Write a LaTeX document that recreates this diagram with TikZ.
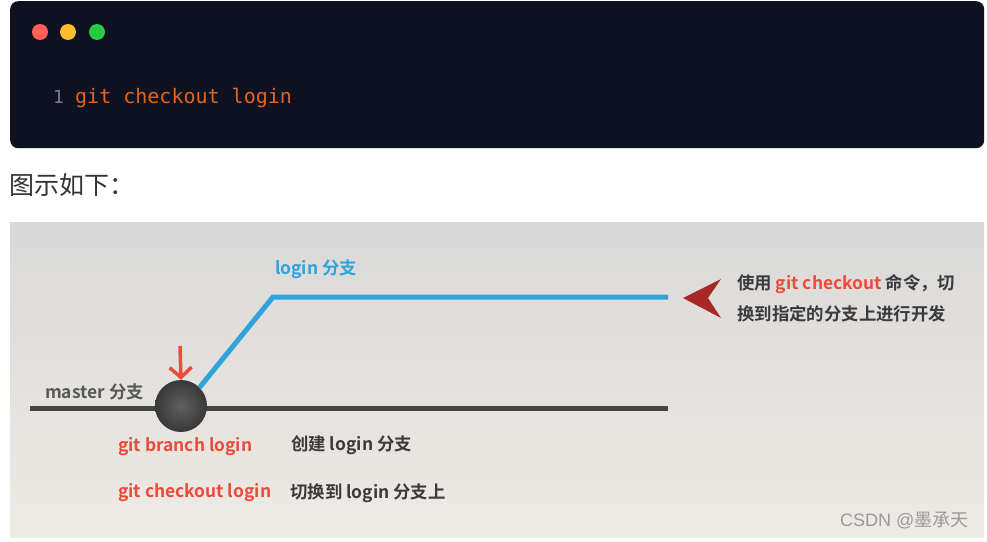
\documentclass[tikz,border=0pt]{standalone}
\usepackage{fontspec}
\setmainfont{Noto Sans CJK SC}
\newfontfamily\cjk{Noto Sans CJK SC}
\newfontfamily\cjkb[BoldFont={Noto Sans CJK SC Bold}]{Noto Sans CJK SC}
\newfontfamily\monof{DejaVu Sans Mono}
\usetikzlibrary{arrows.meta}
\definecolor{codebg}{HTML}{0D1120}
\definecolor{codeorange}{HTML}{E8641C}
\definecolor{linenum}{HTML}{7A8094}
\definecolor{dotred}{HTML}{FF5F56}
\definecolor{dotyellow}{HTML}{FFBD2E}
\definecolor{dotgreen}{HTML}{27C93F}
\definecolor{captxt}{HTML}{333333}
\definecolor{paneltop}{HTML}{D9D9D9}
\definecolor{panelbot}{HTML}{EEEAE4}
\definecolor{masterc}{HTML}{444444}
\definecolor{branchblue}{HTML}{2EA3DC}
\definecolor{cmdred}{HTML}{EE4A3A}
\definecolor{darktxt}{HTML}{3A3A3A}
\definecolor{dartred}{HTML}{A82828}
\definecolor{wm}{HTML}{9A9A9A}
\tikzset{
  lbl/.style={inner sep=0pt, anchor=west, font=\cjkb\bfseries\fontsize{17.4}{19}\selectfont},
  dot/.style={circle, minimum size=16pt, inner sep=0pt},
}
\begin{document}
\begin{tikzpicture}[x=1pt,y=-1pt]
\useasboundingbox (0,0) rectangle (987,541);
\fill[white] (0,0) rectangle (987,541);
% code box
\node[fill=codebg, rounded corners=8pt, minimum width=974pt, minimum height=147pt, anchor=north west, inner sep=0pt] (code) at (10,1) {};
\node[dot, fill=dotred] (d1) at (40,32) {};
\node[dot, fill=dotyellow] (d2) at (68,32) {};
\node[dot, fill=dotgreen] (d3) at (97,32) {};
\node[anchor=base west, inner sep=0pt, text=linenum, font=\monof\fontsize{18}{20}\selectfont] (ln) at (53,103) {1};
\node[anchor=base west, inner sep=0pt, text=codeorange, font=\monof\fontsize{20}{22}\selectfont] (cmd) at (75,103) {git checkout login};
% caption
\node[anchor=west, inner sep=0pt, text=captxt, font=\cjk\fontsize{25}{27}\selectfont] (cap) at (9,185) {图示如下：};
% panel
\shade[top color=paneltop, bottom color=panelbot] (10,222) rectangle (984,537);
% master line
\coordinate (ms) at (30,408);
\coordinate (me) at (668,408);
\draw[masterc, line width=5pt] (ms) -- (me);
% blue branch
\coordinate (bk) at (273,297);
\coordinate (be) at (668,297);
\node[circle, minimum size=52pt, inner sep=0pt] (c) at (181,406) {};
\draw[branchblue, line width=5pt] (c.45) -- (bk) -- (be);
\shade[inner color=masterc!85, outer color=black!78] (c.center) circle (26pt);
% red arrow
\coordinate (ra) at (180,346);
\draw[cmdred, line width=3.5pt, -{Straight Barb[length=10pt,width=22pt,line width=3.5pt]}] (ra) -- (c.north);
% labels
\node[lbl, text=branchblue] (login) at (275,269) {login 分支};
\node[lbl, text=masterc!90] (master) at (45,392) {master 分支};
\node[lbl, text=cmdred] (gb) at (118,447) {git branch login};
\node[lbl, text=darktxt] (gbt) at (291,445) {创建 login 分支};
\node[lbl, text=cmdred] (gc) at (118,493) {git checkout login};
\node[lbl, text=darktxt] (gct) at (290,493) {切换到 login 分支上};
% dart
\coordinate (dt) at (683,298);
\fill[dartred] (dt) -- (721,279) -- (708,298) -- (721,318) -- cycle;
\node[lbl, text=darktxt] (n1) at (737,284) {使用 \textcolor{cmdred}{git checkout} 命令，切};
\node[lbl, text=darktxt] (n2) at (737,314) {换到指定的分支上进行开发};
% watermark
\node[anchor=west, inner sep=0pt, text=wm, font=\fontspec{Liberation Sans}\fontsize{18}{20}\selectfont] (wmk) at (840,521) {CSDN @{\cjk 墨承天}};
\end{tikzpicture}
\end{document}
